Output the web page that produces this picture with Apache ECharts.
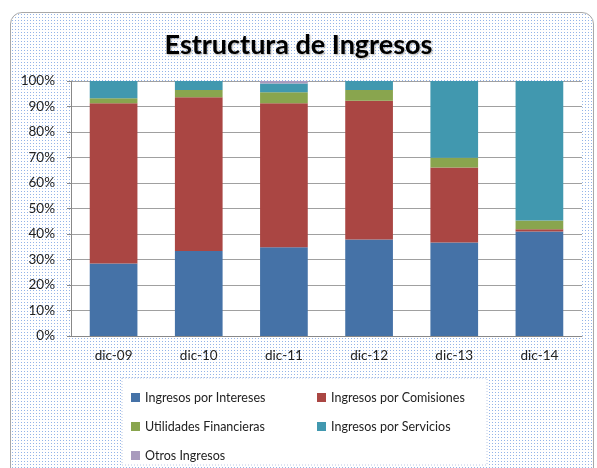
<!DOCTYPE html>
<html>
<head>
<meta charset="utf-8">
<script src="https://cdn.jsdelivr.net/npm/echarts@6/dist/echarts.min.js"></script>
<style>
  body { margin: 0; background: #fff; }
  #frame { position: absolute; left: 10px; top: 12px; width: 584px; height: 470px;
           border: 1px solid #a8a8a8; border-radius: 12px; box-sizing: border-box; }
  #chart { position: absolute; left: 0; top: 0; width: 597px; height: 468px; }
</style>
</head>
<body>
<div id="frame"></div>
<div id="chart"></div>
<script>
// categorias y porcentajes
var categorias = ['dic-09', 'dic-10', 'dic-11', 'dic-12', 'dic-13', 'dic-14'];
var intereses  = [28.4, 33.3, 34.8, 37.8, 36.7, 41.0];
var comisiones = [62.9, 60.3, 56.5, 54.5, 29.4, 0.9];
var utilidades = [1.9, 2.9, 4.3, 4.2, 3.8, 3.4];
var servicios  = [6.8, 3.5, 3.4, 3.5, 30.1, 54.7];
var otros      = [0, 0, 1.0, 0, 0, 0];

var nombres = ['Ingresos por Intereses', 'Ingresos por Comisiones',
               'Utilidades Financieras', 'Ingresos por Servicios', 'Otros Ingresos'];
var colores = ['#4572A7', '#AA4643', '#89A54E', '#4198AF', '#A99BBD'];
var valores = [intereses, comisiones, utilidades, servicios, otros];

// fondo punteado del area del grafico
var pc = document.createElement('canvas');
pc.width = 3; pc.height = 3;
var pctx = pc.getContext('2d');
pctx.fillStyle = '#ffffff';
pctx.fillRect(0, 0, 3, 3);
pctx.fillStyle = '#94b4e8';
pctx.fillRect(1, 1, 1, 1);
var frame = document.getElementById('frame');
frame.style.backgroundImage = 'url(' + pc.toDataURL() + ')';

var font = 'Lato, "Open Sans", sans-serif';

// posiciones de la leyenda (2 columnas)
var legPos = [[126, 386], [312, 386], [126, 415], [312, 415], [126, 444]];
var legends = nombres.map(function (n, i) {
    return {
        left: legPos[i][0], top: legPos[i][1],
        data: [n],
        itemWidth: 9, itemHeight: 9, itemGap: 4,
        icon: 'rect',
        textStyle: { fontFamily: font, fontSize: 12.5, color: '#222' },
        selectedMode: false
    };
});

var series = nombres.map(function (n, i) {
    return {
        name: n,
        type: 'bar',
        stack: 'total',
        barWidth: '56%',
        data: valores[i],
        itemStyle: { color: colores[i] },
        emphasis: { disabled: true }
    };
});

var chart = echarts.init(document.getElementById('chart'));
chart.setOption({
    backgroundColor: 'transparent',
    animation: false,
    title: {
        text: 'Estructura de Ingresos',
        left: 'center',
        top: 27,
        textStyle: {
            fontFamily: font, fontSize: 27, fontWeight: 'bold', color: '#000',
            textShadowColor: 'rgba(0,0,0,0.3)', textShadowBlur: 2,
            textShadowOffsetX: 1, textShadowOffsetY: 1
        }
    },
    graphic: [{
        type: 'rect',
        shape: { x: 122, y: 378, width: 365, height: 87 },
        style: { fill: '#ffffff', stroke: '#b8c8e6', lineWidth: 1, lineDash: [1, 2] },
        z: -1
    }],
    legend: legends,
    grid: {
        left: 71, right: 15, top: 81, bottom: 132,
        show: true, backgroundColor: '#ffffff', borderWidth: 0
    },
    xAxis: {
        type: 'category',
        data: categorias,
        axisLine: { lineStyle: { color: '#888', width: 1 } },
        axisTick: { show: false },
        axisLabel: { fontFamily: font, fontSize: 13.5, color: '#222', margin: 13 }
    },
    yAxis: {
        type: 'value',
        min: 0, max: 100, interval: 10,
        axisLine: { show: true, lineStyle: { color: '#888' } },
        axisTick: { show: true, length: 4, lineStyle: { color: '#888' } },
        axisLabel: { formatter: '{value}%', fontFamily: font, fontSize: 13.5, color: '#222', margin: 16 },
        splitLine: { lineStyle: { color: '#a0a0a0', width: 1 } }
    },
    series: series
});
</script>
</body>
</html>
